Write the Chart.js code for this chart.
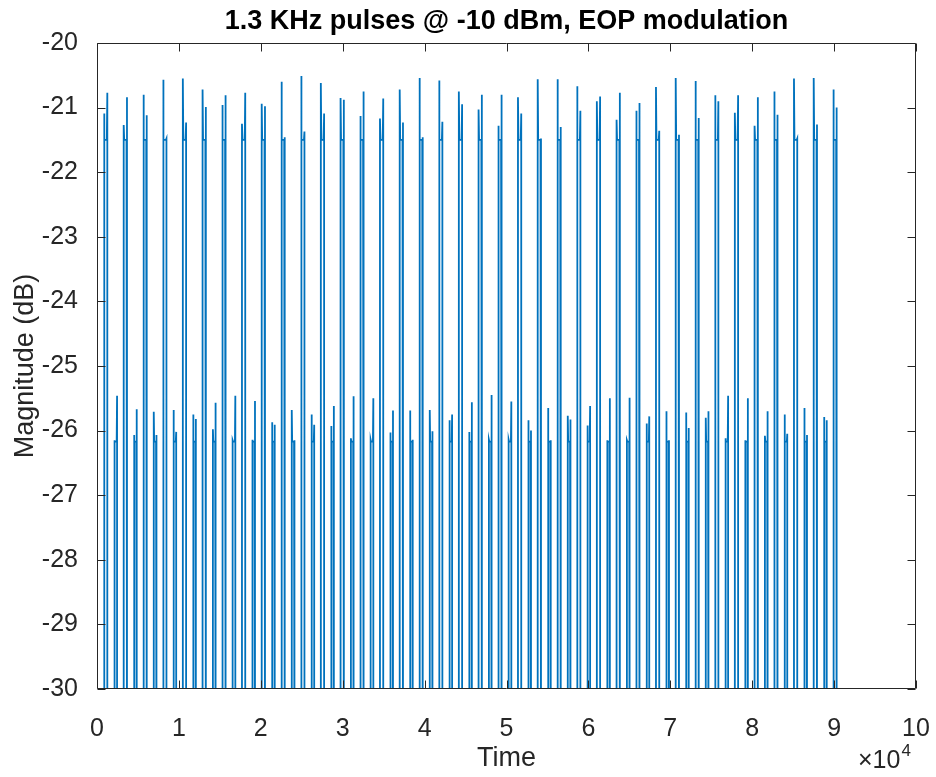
<!DOCTYPE html>
<html>
<head>
<meta charset="utf-8">
<script src="https://cdn.jsdelivr.net/npm/chart.js@4.4.1/dist/chart.umd.min.js"></script>
<style>
  html, body { margin: 0; padding: 0; background: #fff; }
</style>
</head>
<body>
<canvas id="chart" width="936" height="777"></canvas>
<script>
// pulse start times (samples)
const highStart = [860, 3260, 5670, 8080, 10480, 12890, 15300, 17700, 20110, 22520,
  24930, 27330, 29740, 32150, 34550, 36960, 39370, 41770, 44180, 46590,
  49000, 51400, 53810, 56220, 58620, 61030, 63440, 65840, 68250, 70660,
  73070, 75470, 77880, 80290, 82690, 85100, 87510, 89910];
// rising-edge and falling-edge spike levels of the strong pulses (dB)
const highPeakA = [-21.09, -21.27, -20.80, -20.57, -20.55, -20.72, -20.96, -21.25, -20.94, -20.60,
  -20.51, -20.62, -20.85, -21.13, -21.17, -20.72, -20.54, -20.58, -20.75, -21.03,
  -21.28, -20.84, -20.56, -20.56, -20.67, -20.90, -21.19, -21.05, -20.68, -20.54,
  -20.59, -20.81, -21.08, -21.28, -20.75, -20.55, -20.54, -20.72];
const highPeakB = [-20.77, -20.84, -21.12, -21.48, -21.23, -20.99, -20.81, -20.77, -20.98, -21.46,
  -21.37, -21.09, -20.88, -20.75, -20.86, -21.23, -21.46, -21.22, -20.95, -20.80,
  -20.80, -21.09, -21.48, -21.30, -21.05, -20.83, -20.77, -20.93, -21.36, -21.42,
  -21.16, -20.90, -20.81, -20.84, -21.11, -21.48, -21.26, -21.00];
const highLevel = -21.5;

const lowStart = [2120, 4520, 6930, 9340, 11740, 14150, 16560, 18960, 21370, 23780,
  26190, 28590, 31000, 33410, 35810, 38220, 40630, 43030, 45440, 47850,
  50260, 52660, 55070, 57480, 59880, 62290, 64700, 67100, 69510, 71920,
  74330, 76730, 79140, 81550, 83950, 86360, 88770];
const lowPeakA = [-26.15, -26.07, -25.71, -25.68, -25.75, -25.98, -26.15, -26.14, -25.87, -25.68,
  -25.75, -25.93, -26.12, -26.14, -26.03, -25.69, -25.68, -25.84, -26.02, -26.14,
  -26.14, -25.84, -25.65, -25.77, -25.92, -26.15, -26.15, -25.89, -25.70, -25.72,
  -25.80, -26.12, -26.15, -26.08, -25.75, -25.65, -25.79];
const lowPeakB = [-25.46, -25.67, -26.07, -26.02, -25.82, -25.57, -25.46, -25.54, -25.91, -26.15,
  -25.91, -25.62, -25.47, -25.50, -25.69, -26.14, -26.01, -25.75, -25.56, -25.45,
  -25.55, -26.00, -26.15, -25.83, -25.62, -25.50, -25.49, -25.78, -26.15, -25.96,
  -25.70, -25.46, -25.50, -25.70, -26.05, -26.07, -25.84];
const lowLevel = -26.17;

const floorLevel = -32; // signal sits below the visible range between pulses
const xTicks = [0, 1, 2, 3, 4, 5, 6, 7, 8, 9, 10];
const yTicks = [-30, -29, -28, -27, -26, -25, -24, -23, -22, -21, -20];

function pulse(t, w, a, level, b) {
  return [
    { x: t, y: floorLevel },
    { x: t, y: a },
    { x: t + w * 0.15, y: level },
    { x: t + w * 0.85, y: level },
    { x: t + w, y: b },
    { x: t + w, y: floorLevel },
  ];
}

let pulses = [];
highStart.forEach((t, i) => pulses.push({ t, pts: pulse(t, 400, highPeakA[i], highLevel, highPeakB[i]) }));
lowStart.forEach((t, i) => pulses.push({ t, pts: pulse(t, 330, lowPeakA[i], lowLevel, lowPeakB[i]) }));
pulses.sort((p, q) => p.t - q.t);
const points = [{ x: 0, y: floorLevel }];
pulses.forEach((p) => points.push(...p.pts));

const ink = "#262626";
const font = '"Liberation Sans", Arial, Helvetica, sans-serif';

// MATLAB-like box with inward ticks, title and exponent label
const matlabAxes = {
  id: "matlabAxes",
  afterDatasetsDraw(chart) {
    const { ctx, chartArea: a, scales } = chart;
    const L = Math.round(a.left) + 0.5, R = Math.round(a.right) - 0.5;
    const T = Math.round(a.top) + 0.5, B = Math.round(a.bottom) - 0.5;
    ctx.save();
    ctx.strokeStyle = ink;
    ctx.lineWidth = 1;
    ctx.beginPath();
    ctx.rect(L, T, R - L, B - T);
    const tl = 8;
    scales.x.ticks.forEach((tk) => {
      const px = Math.round(scales.x.getPixelForValue(tk.value)) + 0.5;
      ctx.moveTo(px, B); ctx.lineTo(px, B - tl);
      ctx.moveTo(px, T); ctx.lineTo(px, T + tl);
    });
    scales.y.ticks.forEach((tk) => {
      const py = Math.round(scales.y.getPixelForValue(tk.value)) + 0.5;
      ctx.moveTo(L, py); ctx.lineTo(L + tl, py);
      ctx.moveTo(R, py); ctx.lineTo(R - tl, py);
    });
    ctx.stroke();

    ctx.fillStyle = "#000";
    ctx.font = "bold 27px " + font;
    ctx.textAlign = "center";
    ctx.textBaseline = "alphabetic";
    ctx.fillText("1.3 KHz pulses @ -10 dBm, EOP modulation", (a.left + a.right) / 2, 29);

    ctx.fillStyle = ink;
    ctx.textAlign = "left";
    ctx.font = "25px " + font;
    ctx.fillText("\u00d710", 858, 768);
    const w = ctx.measureText("\u00d710").width;
    ctx.font = "17px " + font;
    ctx.fillText("4", 858 + w + 1, 756);
    ctx.restore();
  },
};

new Chart(document.getElementById("chart"), {
  type: "line",
  data: {
    datasets: [
      {
        data: points,
        borderColor: "#0072BD",
        borderWidth: 1.8,
        pointRadius: 0,
        tension: 0,
        fill: false,
        clip: 0,
      },
    ],
  },
  options: {
    responsive: false,
    animation: false,
    devicePixelRatio: 1,
    layout: { autoPadding: false, padding: { top: 43, right: 20, bottom: 0, left: 0 } },
    plugins: { legend: { display: false }, title: { display: false }, tooltip: { enabled: false } },
    scales: {
      x: {
        type: "linear",
        min: 0,
        max: 100000,
        afterFit: (s) => { s.height = 88; s.paddingLeft = 0; s.paddingRight = 0; },
        afterBuildTicks: (s) => { s.ticks = xTicks.map((v) => ({ value: v * 10000 })); },
        grid: { display: false },
        border: { display: false },
        ticks: {
          color: ink,
          font: { family: font, size: 25 },
          padding: 17,
          maxRotation: 0,
          autoSkip: false,
          callback: (v) => String(v / 10000),
        },
        title: { display: true, text: "Time", color: ink, font: { family: font, size: 27 }, padding: { top: 0, bottom: 2 } },
      },
      y: {
        min: -30,
        max: -20,
        afterFit: (s) => { s.width = 97; s.paddingTop = 0; s.paddingBottom = 0; },
        afterBuildTicks: (s) => { s.ticks = yTicks.map((v) => ({ value: v })); },
        grid: { display: false },
        border: { display: false },
        ticks: {
          color: ink,
          font: { family: font, size: 25 },
          padding: 11,
          autoSkip: false,
          callback: (v) => String(v),
        },
        title: { display: true, text: "Magnitude (dB)", color: ink, font: { family: font, size: 27 }, padding: { top: 9, bottom: 0 } },
      },
    },
  },
  plugins: [matlabAxes],
});
</script>
</body>
</html>
